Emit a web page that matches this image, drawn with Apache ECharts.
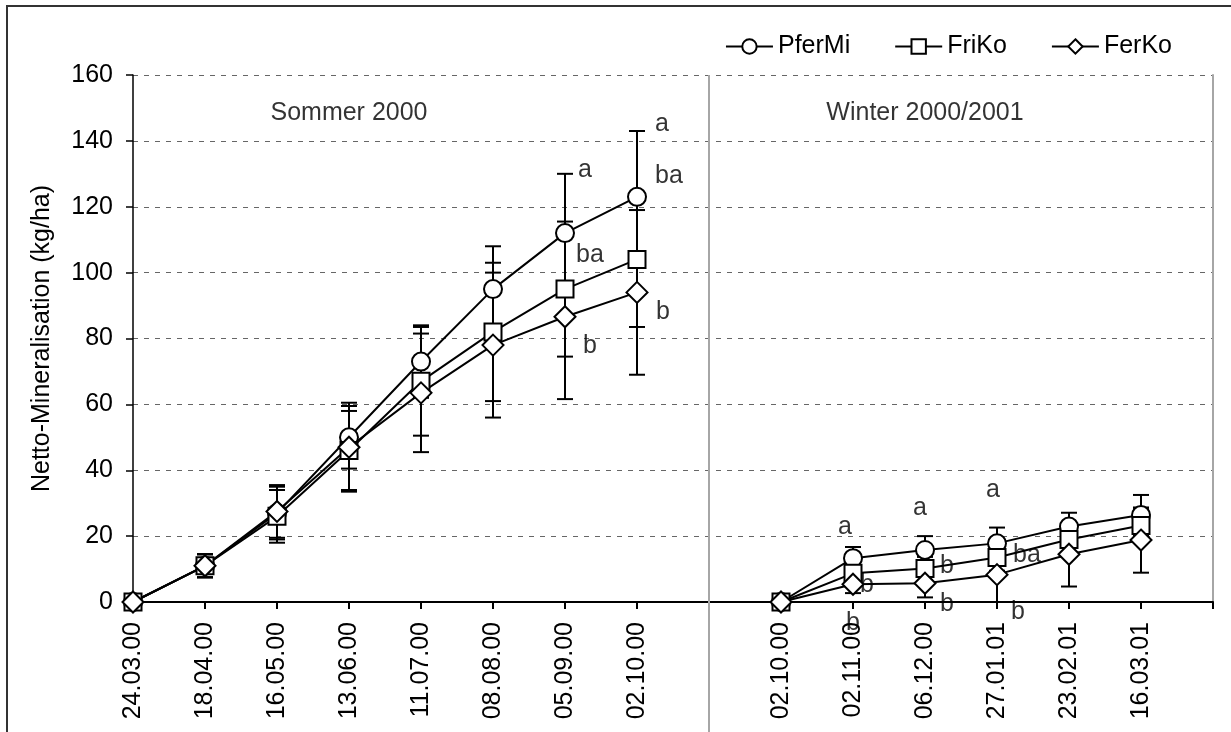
<!DOCTYPE html>
<html><head><meta charset="utf-8">
<script src="https://cdn.jsdelivr.net/npm/echarts@6/dist/echarts.min.js"></script>
<style>html,body{margin:0;padding:0;background:#fff}#c{width:1231px;height:732px}</style>
</head><body><div id="c"></div>
<script>
// ---- data ----
const summerDates = ['24.03.00','18.04.00','16.05.00','13.06.00','11.07.00','08.08.00','05.09.00','02.10.00'];
const winterDates = ['02.10.00','02.11.00','06.12.00','27.01.01','23.02.01','16.03.01'];
const seriesNames = ['PferMi','FriKo','FerKo'];

const pferMiSummer    = [0, 11, 27, 50, 73, 95, 112, 123];
const pferMiSummerErr = [0, 3.5, 8, 9.5, 11, 13, 18, 20];
const pferMiWinter    = [0, 13.3, 15.8, 17.8, 22.9, 26.4];
const pferMiWinterErr = [0, 3.4, 4.2, 4.8, 4.2, 6.1];

const friKoSummer    = [0, 11, 26, 46, 67, 82, 95, 104];
const friKoSummerErr = [0, 3.5, 8, 12, 16.5, 21, 20.5, 20.5];
const friKoWinter    = [0, 8.7, 10.2, 13.5, 19, 23.2];
const friKoWinterErr = [0, 3, 3.5, 4, 4.5, 5];

const ferKoSummer    = [0, 11, 27.5, 47, 63.5, 78, 86.6, 94];
const ferKoSummerErr = [0, 3.5, 8, 13.5, 18, 22, 25, 25];
const ferKoWinter    = [0, 5.4, 5.7, 8.3, 14.5, 18.8];
const ferKoWinterErr = [0, 2.7, 4.3, 8.3, 9.8, 9.9];

const yMin = 0, yMax = 160, yStep = 20;

// significance letters: [category index, value, text]
const letters = [
  [6, 131.2, 'a'], [6, 105.3, 'ba'], [6, 77.7, 'b'],
  [7, 145.1, 'a'], [7, 129.3, 'ba'], [7, 88, 'b'],
  [10, 22.8, 'a'], [10, 5.2, 'b'], [10, -6.4, 'b'],
  [11, 28.5, 'a'], [11, 10.9, 'b'], [11, -0.6, 'b'],
  [12, 34, 'a'], [12, 14.3, 'ba'], [12, -3, 'b']
];
const letterNudge = [20, 25, 25, 25, 32, 26, -8, 14, 0, -5, 22, 22, -4, 30, 21];

const periodTitles = [[3.3, 148.5, 'Sommer 2000'], [10.6, 148.5, 'Winter 2000/2001']];

// ---- build ----
const categories = summerDates.concat([''], winterDates, ['']);
function join(s, w){ return s.concat(['-'], w, ['-']); }
const seriesVals = [join(pferMiSummer, pferMiWinter), join(friKoSummer, friKoWinter), join(ferKoSummer, ferKoWinter)];
const seriesErr  = [join(pferMiSummerErr, pferMiWinterErr), join(friKoSummerErr, friKoWinterErr), join(ferKoSummerErr, ferKoWinterErr)];
const symbols = ['circle','rect','diamond'];
const symSizes = [18, 17, 21];

const errData = [];
seriesVals.forEach((vals, s) => {
  vals.forEach((v, i) => {
    const e = seriesErr[s][i];
    if (v !== '-' && e > 0) errData.push([i, v - e, v + e]);
  });
});

const FONT = 'Liberation Sans, Arial, sans-serif';
const FS = 25;
const chart = echarts.init(document.getElementById('c'), null, {renderer: 'canvas'});

const lineSeries = seriesNames.map((n, s) => ({
  name: n, type: 'line', data: seriesVals[s],
  symbol: symbols[s], symbolSize: symSizes[s], showAllSymbol: true,
  connectNulls: false, z: 5, clip: false,
  lineStyle: {color: '#000', width: 2},
  itemStyle: {color: '#fff', borderColor: '#000', borderWidth: 2},
  emphasis: {disabled: true},
  animation: false
}));

chart.setOption({
  animation: false,
  textStyle: {fontFamily: FONT},
  grid: {left: 133, right: 18, top: 75, bottom: 130, containLabel: false},
  legend: {
    data: seriesNames, right: 54, top: 29, itemWidth: 47, itemHeight: 18, itemGap: 44,
    textStyle: {fontSize: FS, color: '#000', fontFamily: FONT}
  },
  xAxis: {
    type: 'category', data: categories, boundaryGap: false,
    axisLine: {lineStyle: {color: '#000', width: 2}},
    axisTick: {interval: 0, length: 7, lineStyle: {color: '#000', width: 2}},
    axisLabel: {interval: 0, rotate: 90, fontSize: FS, color: '#000', margin: 20, fontFamily: FONT},
    splitLine: {show: false}
  },
  yAxis: [{
    type: 'value', min: yMin, max: yMax, interval: yStep,
    name: 'Netto-Mineralisation (kg/ha)', nameLocation: 'middle', nameGap: 78,
    nameTextStyle: {fontSize: FS, color: '#000', fontFamily: FONT},
    axisLine: {show: true, lineStyle: {color: '#000', width: 1.5}},
    axisTick: {show: true, length: 7, lineStyle: {color: '#000', width: 1.5}},
    axisLabel: {fontSize: FS, color: '#000', margin: 20, fontFamily: FONT},
    splitLine: {show: true, lineStyle: {color: '#666', type: [5, 6], width: 1}}
  }, {
    type: 'value', min: yMin, max: yMax, interval: yStep, position: 'right',
    axisLine: {show: true, lineStyle: {color: '#a6a6a6', width: 2}},
    axisTick: {show: false}, axisLabel: {show: false}, splitLine: {show: false}
  }],
  series: [{
    type: 'custom', z: 2, clip: false, silent: true,
    data: errData,
    renderItem: function(params, api){
      const x = api.value(0), lo = api.value(1), hi = api.value(2);
      const pLo = api.coord([x, lo]), pHi = api.coord([x, hi]);
      const hw = 8;
      const st = {stroke: '#000', lineWidth: 2};
      return {type: 'group', children: [
        {type: 'line', shape: {x1: pLo[0], y1: pLo[1], x2: pHi[0], y2: pHi[1]}, style: st},
        {type: 'line', shape: {x1: pHi[0]-hw, y1: pHi[1], x2: pHi[0]+hw, y2: pHi[1]}, style: st},
        {type: 'line', shape: {x1: pLo[0]-hw, y1: pLo[1], x2: pLo[0]+hw, y2: pLo[1]}, style: st}
      ]};
    }
  }, {
    type: 'scatter', z: 3, clip: false, silent: true, symbolSize: 0,
    data: letters.map((l, k) => ({value: [l[0], l[1]], label: {offset: [letterNudge[k], 0]}, name: l[2]})),
    label: {show: true, position: 'inside', formatter: p => p.name, fontSize: FS, color: '#000', fontFamily: FONT}
  }, {
    type: 'scatter', z: 3, clip: false, silent: true, symbolSize: 0,
    data: periodTitles.map(t => ({value: [t[0], t[1]], name: t[2]})),
    label: {show: true, position: 'inside', formatter: p => p.name, fontSize: FS, color: '#000', fontFamily: FONT}
  }].concat(lineSeries)
});

const sepX = chart.convertToPixel({xAxisIndex: 0}, 8);
const topY = chart.convertToPixel({yAxisIndex: 0}, yMax);
chart.setOption({
  graphic: [
    {type: 'line', z: 1, shape: {x1: sepX, y1: topY, x2: sepX, y2: 732}, style: {stroke: '#a6a6a6', lineWidth: 2}},
    {type: 'rect', z: 0, shape: {x: 7, y: 6, width: 1240, height: 800}, style: {fill: 'none', stroke: '#333', lineWidth: 2}}
  ]
});
</script>
</body></html>
